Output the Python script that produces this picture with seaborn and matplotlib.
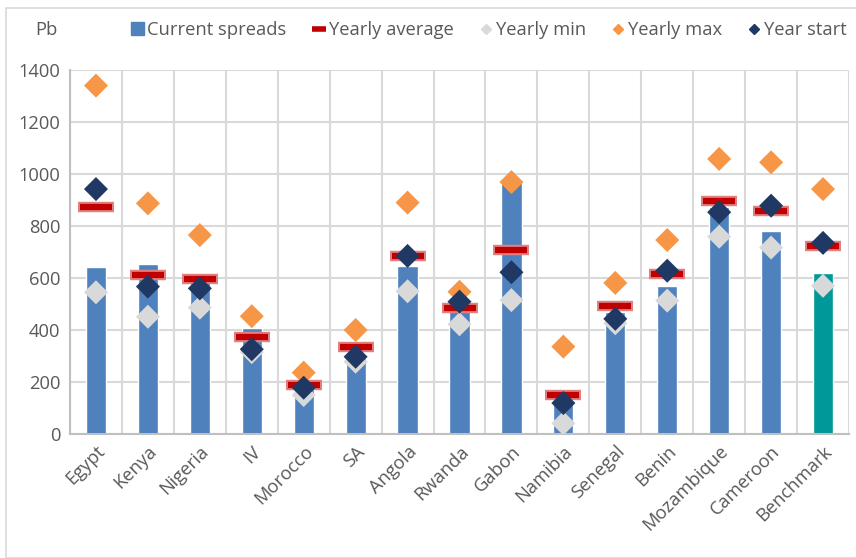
import matplotlib
matplotlib.use("Agg")
import matplotlib.pyplot as plt
from matplotlib.lines import Line2D
from matplotlib.patches import Patch, Rectangle
import seaborn as sns
import pandas as pd

countries = ['Egypt', 'Kenya', 'Nigeria', 'IV', 'Morocco', 'SA', 'Angola', 'Rwanda',
             'Gabon', 'Namibia', 'Senegal', 'Benin', 'Mozambique', 'Cameroon', 'Benchmark']
current = [643, 655, 585, 408, 175, 292, 647, 477, 968, 125, 470, 568, 874, 782, 619]
avg = [873, 610, 597, 373, 188, 336, 685, 483, 706, 149, 494, 614, 895, 859, 723]
ymin = [545, 451, 486, 315, 150, 278, 549, 422, 515, 41, 426, 513, 759, 717, 570]
ymax = [1340, 887, 765, 453, 236, 400, 890, 547, 969, 336, 581, 746, 1058, 1045, 942]
ystart = [942, 567, 560, 326, 178, 297, 685, 509, 622, 119, 443, 628, 853, 878, 735]

sns.set_style("white")
plt.rcParams['font.family'] = ['Open Sans', 'DejaVu Sans']

bar_col = '#4F81BD'
bench_col = '#009999'
avg_col = '#C00000'
min_col = '#D9D9D9'
max_col = '#F79646'
start_col = '#1F3864'
grid_col = '#D9D9D9'
text_col = '#595959'
fs = 13.2

df = pd.DataFrame({'country': countries, 'current': current, 'avg': avg,
                   'min': ymin, 'max': ymax, 'start': ystart})

fig = plt.figure(figsize=(8.56, 5.58), dpi=100)
ax = fig.add_axes([70 / 856, 1 - 434 / 558, (849 - 70) / 856, (434 - 70) / 558])

colors = [bar_col] * (len(countries) - 1) + [bench_col]
sns.barplot(data=df, x='country', y='current', hue='country', palette=colors,
            width=0.39, legend=False, ax=ax, zorder=2, saturation=1)

x = range(len(countries))
# yearly average: red dash with a soft halo
ax.plot(x, avg, ls='none', marker='_', ms=26, mew=7.5, color='#E08080', zorder=3)
ax.plot(x, avg, ls='none', marker='_', ms=23, mew=4.5, color=avg_col, zorder=3)
sns.scatterplot(data=df, x='country', y='min', marker='D', s=150, color=min_col,
                edgecolor='none', ax=ax, zorder=4)
sns.scatterplot(data=df, x='country', y='max', marker='D', s=150, color=max_col,
                edgecolor='none', ax=ax, zorder=4)
sns.scatterplot(data=df, x='country', y='start', marker='D', s=150, color=start_col,
                edgecolor='none', ax=ax, zorder=5)

ax.set_xlim(-0.5, len(countries) - 0.5)
ax.set_ylim(0, 1400)
ax.set_yticks(range(0, 1401, 200))
ax.set_xlabel('')
ax.set_ylabel('')
ax.set_xticks([i - 0.5 for i in range(len(countries) + 1)], minor=True)
ax.grid(axis='y', which='major', color=grid_col, lw=1.5, zorder=0)
ax.grid(axis='x', which='minor', color=grid_col, lw=1.5, zorder=0)
ax.grid(axis='x', which='major', visible=False)
for s in ['top', 'right']:
    ax.spines[s].set_visible(False)
for s in ['left', 'bottom']:
    ax.spines[s].set_color('#BFBFBF')
    ax.spines[s].set_linewidth(1.5)
ax.tick_params(axis='both', which='both', length=0, labelsize=fs, colors=text_col)
ax.tick_params(axis='y', pad=7)
ax.tick_params(axis='x', pad=6)
plt.setp(ax.get_xticklabels(), rotation=45, ha='right', rotation_mode='anchor')

fig.text(35 / 856, 1 - 30 / 558, 'Pb', fontsize=fs, color=text_col, va='center')

handles = [
    Patch(color=bar_col),
    Line2D([], [], ls='none', marker='_', ms=10, mew=4, color=avg_col),
    Line2D([], [], ls='none', marker='D', ms=5, color=min_col),
    Line2D([], [], ls='none', marker='D', ms=5, color=max_col),
    Line2D([], [], ls='none', marker='D', ms=5, color=start_col),
]
labels = ['Current spreads', 'Yearly average', 'Yearly min', 'Yearly max', 'Year start']
fig.legend(handles, labels, loc='center', bbox_to_anchor=(489 / 856, 1 - 30 / 558),
           ncol=5, frameon=False, fontsize=fs, handlelength=0.7, handletextpad=0.2,
           columnspacing=1.4, labelcolor=text_col)

fig.patches.append(Rectangle((6 / 856, 0), 1, 1 - 8 / 558, transform=fig.transFigure,
                             fill=False, edgecolor='#D9D9D9', lw=1.2))

fig.savefig('out.png', dpi=100)
